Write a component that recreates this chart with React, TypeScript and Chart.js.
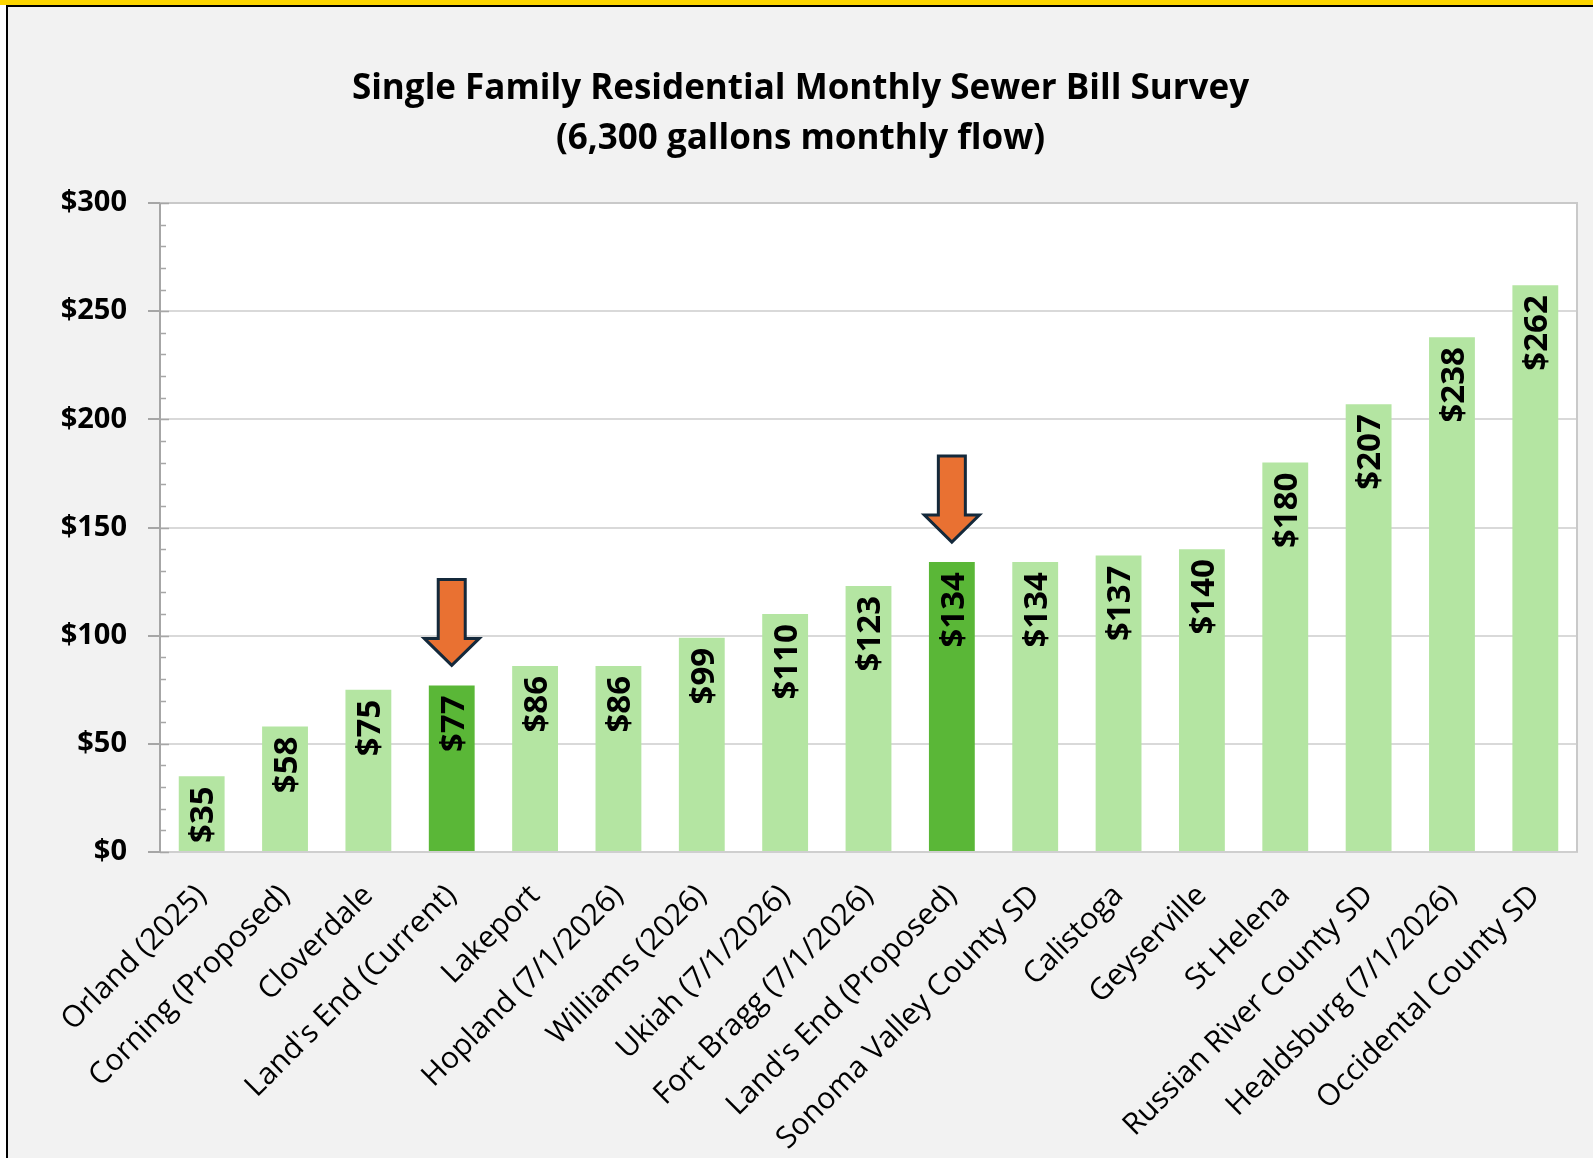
import React, { useEffect, useRef } from "react";
import { Chart, registerables } from "chart.js";

Chart.register(...registerables);

const titleLines = [
  "Single Family Residential Monthly Sewer Bill Survey",
  "(6,300 gallons monthly flow)",
];

const categories = [
  "Orland (2025)",
  "Corning (Proposed)",
  "Cloverdale",
  "Land's End (Current)",
  "Lakeport",
  "Hopland (7/1/2026)",
  "Williams (2026)",
  "Ukiah (7/1/2026)",
  "Fort Bragg (7/1/2026)",
  "Land's End (Proposed)",
  "Sonoma Valley County SD",
  "Calistoga",
  "Geyserville",
  "St Helena",
  "Russian River County SD",
  "Healdsburg (7/1/2026)",
  "Occidental County SD",
];

const monthlyBills = [35, 58, 75, 77, 86, 86, 99, 110, 123, 134, 134, 137, 140, 180, 207, 238, 262];

const highlighted = ["Land's End (Current)", "Land's End (Proposed)"];

const yTickValues = [0, 50, 100, 150, 200, 250, 300];
const minorStep = 10;

const FONT = "'Open Sans', sans-serif";
const LIGHT = "#B4E5A2";
const DARK = "#5AB737";
const ORANGE = "#E97132";
const OUTLINE = "#14293B";

const CANVAS_W = 1585;
const CANVAS_H = 1151;

const money = (v: number) => "$" + v;

const decor = {
  id: "decor",
  beforeDraw(chart: any) {
    const { ctx, chartArea: a, width } = chart;
    ctx.save();
    ctx.fillStyle = "#FFFFFF";
    ctx.fillRect(a.left, a.top, a.right - a.left, a.bottom - a.top);
    ctx.fillStyle = "#000000";
    ctx.textAlign = "center";
    ctx.textBaseline = "middle";
    ctx.font = `bold 35px ${FONT}`;
    ctx.fillText(titleLines[0], width / 2, 82);
    ctx.fillText(titleLines[1], width / 2, 132);
    ctx.restore();
  },
  beforeDatasetsDraw(chart: any) {
    const { ctx, chartArea: a, scales } = chart;
    const y = scales.y;
    ctx.save();
    ctx.strokeStyle = "#C9C9C9";
    ctx.lineWidth = 2;
    ctx.beginPath();
    ctx.moveTo(a.left, a.top);
    ctx.lineTo(a.right, a.top);
    ctx.lineTo(a.right, a.bottom);
    ctx.stroke();
    ctx.strokeStyle = "#A6A6A6";
    ctx.lineWidth = 1.5;
    for (let v = y.min; v <= y.max; v += minorStep) {
      const py = Math.round(y.getPixelForValue(v)) + 0.5;
      const len = v % 50 === 0 ? 9 : 6;
      ctx.beginPath();
      ctx.moveTo(a.left, py);
      ctx.lineTo(a.left + len, py);
      ctx.stroke();
    }
    ctx.restore();
  },
  afterDatasetsDraw(chart: any) {
    const { ctx } = chart;
    const meta = chart.getDatasetMeta(0);
    ctx.save();
    const fs = 33;
    ctx.font = `bold ${fs}px ${FONT}`;
    ctx.fillStyle = "#000000";
    ctx.textAlign = "right";
    ctx.textBaseline = "alphabetic";
    const capHalf = fs * 0.357;
    meta.data.forEach((bar: any, i: number) => {
      ctx.save();
      ctx.translate(bar.x, bar.y + 10);
      ctx.rotate(-Math.PI / 2);
      ctx.fillText(money(monthlyBills[i]), 0, capHalf);
      ctx.restore();
    });
    categories.forEach((c, i) => {
      if (!highlighted.includes(c)) return;
      const bar: any = meta.data[i];
      const cx = bar.x;
      const tip = bar.y - 20;
      const headH = 27;
      const headHalf = 27.5;
      const shaftHalf = 13.5;
      const shaftH = 59;
      const hb = tip - headH;
      ctx.beginPath();
      ctx.moveTo(cx - shaftHalf, hb - shaftH);
      ctx.lineTo(cx + shaftHalf, hb - shaftH);
      ctx.lineTo(cx + shaftHalf, hb);
      ctx.lineTo(cx + headHalf, hb);
      ctx.lineTo(cx, tip);
      ctx.lineTo(cx - headHalf, hb);
      ctx.lineTo(cx - shaftHalf, hb);
      ctx.closePath();
      ctx.fillStyle = ORANGE;
      ctx.fill();
      ctx.lineWidth = 3;
      ctx.lineJoin = "miter";
      ctx.strokeStyle = OUTLINE;
      ctx.stroke();
    });
    ctx.restore();
  },
};

export default function App() {
  const ref = useRef<HTMLCanvasElement>(null);

  useEffect(() => {
    const canvas = ref.current!;
    const chart = new Chart(canvas, {
      type: "bar",
      data: {
        labels: categories,
        datasets: [
          {
            data: monthlyBills,
            backgroundColor: categories.map((c) => (highlighted.includes(c) ? DARK : LIGHT)),
            borderWidth: 0,
            barPercentage: 0.55,
            categoryPercentage: 1,
          },
        ],
      },
      options: {
        responsive: false,
        animation: false,
        devicePixelRatio: 1,
        layout: { padding: { top: 196, right: 16, left: 0, bottom: 0 } },
        plugins: {
          legend: { display: false },
          tooltip: { enabled: false },
          title: { display: false },
        },
        scales: {
          x: {
            grid: { display: false },
            border: { display: true, color: "#CFCFCF", width: 2 },
            ticks: {
              autoSkip: false,
              maxRotation: 45,
              minRotation: 45,
              color: "#000000",
              font: { family: FONT, size: 30 },
              padding: 18,
            },
            afterFit: (s: any) => {
              s.height = 306;
            },
          },
          y: {
            min: 0,
            max: 300,
            afterBuildTicks: (s: any) => {
              s.ticks = yTickValues.map((v) => ({ value: v }));
            },
            ticks: {
              callback: (v: any) => money(v),
              color: "#000000",
              font: { family: FONT, size: 29, weight: "bold" },
              padding: 21,
            },
            grid: {
              color: "#D9D9D9",
              lineWidth: 2,
              tickLength: 12,
              tickColor: "#A6A6A6",
              tickWidth: 2,
            },
            border: { color: "#A6A6A6", width: 2 },
            afterFit: (s: any) => {
              s.width = 152;
            },
          },
        },
      },
      plugins: [decor],
    } as any);
    return () => chart.destroy();
  }, []);

  return (
    <div style={{ position: "fixed", left: 0, top: 0, width: 1593, height: 1158, background: "#FFFFFF", overflow: "hidden" }}>
      <div style={{ position: "absolute", left: 0, top: 0, width: 1593, height: 5, background: "#FCD500" }} />
      <div
        style={{
          position: "absolute",
          left: 6,
          top: 5,
          width: 1587,
          height: 1153,
          boxSizing: "border-box",
          borderLeft: "2px solid #000",
          borderTop: "2px solid #000",
          background: "#F2F2F2",
        }}
      >
        <canvas ref={ref} width={CANVAS_W} height={CANVAS_H} style={{ display: "block", width: CANVAS_W, height: CANVAS_H }} />
      </div>
    </div>
  );
}
